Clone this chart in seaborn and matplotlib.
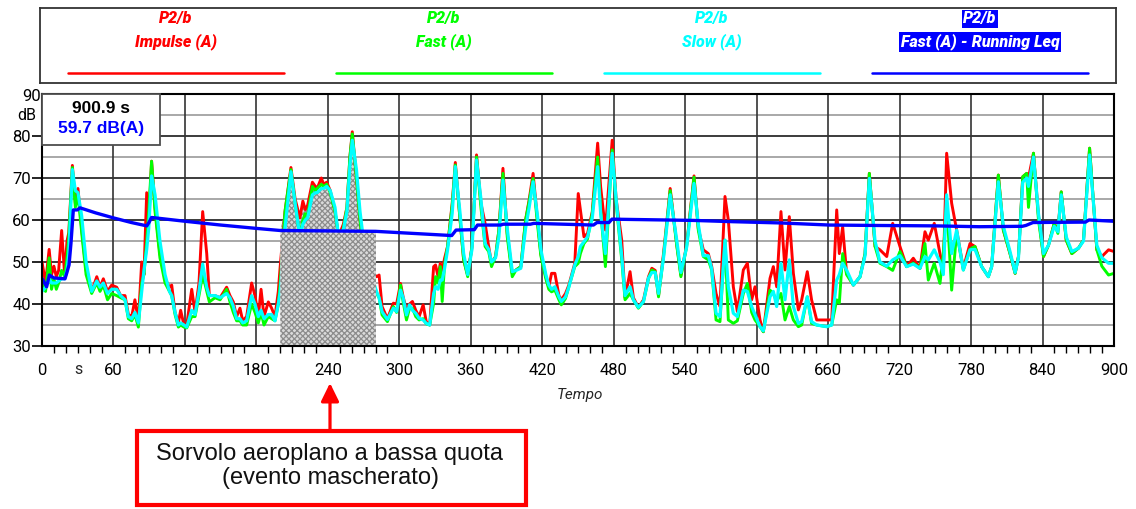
import numpy as np
import matplotlib
matplotlib.use("Agg")
import matplotlib.pyplot as plt
from matplotlib.patches import Rectangle
import seaborn as sns

# ---- measured sound levels, P2/b (dB(A)) ----
time_s = [
    0, 3, 6, 8, 10, 12, 14, 16.5, 19, 21, 22.5, 25.5, 28, 30.2, 33.3, 37, 41.7, 46, 48.7, 51.5,
    55, 58.5, 62.7, 66, 69.7, 72.5, 75.3, 78, 80.9, 83.7, 85.6, 87.9, 89.6, 92, 94.9, 99, 103.3, 107, 108.9, 111.7,
    114.5, 116.4, 119.2, 121.5, 125.7, 128.5, 131.8, 134.9, 138.3, 140.5, 145.3, 149.5, 155, 157.8, 160.6, 163.4, 166.2, 168.5, 171.8, 176,
    178.8, 181.6, 183.9, 186.4, 190, 192.8, 195.6, 198.4, 200,
    204, 209, 212.5, 216.5, 219, 221, 223, 227, 229.5, 231, 234.5, 236.5, 239, 242, 246, 249, 253, 256, 258.5, 260.5,
    264, 267, 270, 275,
    281, 283, 285.5, 290, 295, 297.7, 301, 303.2, 306, 308.6, 311, 313.8, 316.6, 320, 322.6, 325.5, 328.8, 330.4, 332.5, 334.4,
    336, 338, 340.5, 344.4, 347, 351, 354, 357.4, 361, 364.8, 368.5, 372, 375, 377.4, 380.8, 383.6, 387, 390.6, 394.8, 398,
    402, 406, 409, 412.3, 416, 418.8, 423, 425.5, 427.8, 430.6, 434, 436, 439.5, 442.3, 447.3, 450.2, 452, 455, 458, 462,
    466.5, 469, 473, 478.7, 482, 486.7, 489.5, 493.7, 496.5, 500.7, 505, 509.2, 512, 514.8, 517.6, 521.8, 527.4, 533, 536.4, 541.2,
    547.4, 551, 555.2, 559.4, 562.2, 565.9, 569.2, 573.4, 576.2, 580.4, 583.8, 588.8, 592.2, 595.8, 598.6, 602.8, 605.6, 611.2, 614, 616.8,
    620.4, 623.8, 627.4, 630.8, 635, 637.8, 642.5, 646.1, 650.4, 658.8, 663, 667.2, 669.4, 672.2, 675.5, 681.2, 686.8, 691, 694.6, 699.4,
    703.5, 709.2, 714.2, 720.3, 725.9, 731.5, 737.1, 741.3, 744.1, 749.1, 753.9, 756.7, 759.5, 763.7, 767.9, 773.5, 779.1, 783.3, 788.9, 794.5,
    797.3, 802.9, 807.1, 812.7, 817, 819.8, 823.4, 826.7, 828.2, 832.4, 836.6, 840.8, 845, 849.8, 852.9, 855.7, 859.9, 864.6, 870.2, 874.4,
    879.5, 885.6, 889.8, 895.4, 900,
]

fast_a = [
    45, 43, 51, 43.5, 46, 43.5, 45, 48, 46.5, 51, 56, 72.5, 63, 66, 57, 47, 42.5, 45, 43, 44.5,
    41, 42.5, 42, 41.5, 41, 36.5, 36, 37.5, 34.5, 45, 47, 55, 62, 74, 62, 51, 45, 43, 42, 37.5,
    34.5, 35, 34.5, 34.3, 37, 37, 42, 47, 43, 40.5, 41.5, 41, 43.5, 40.5, 38, 36, 36, 35, 35, 40,
    38, 35.5, 38, 35, 37, 36.5, 36, 40, 45,
    62, 72, 64, 56, 60, 61.5, 61, 68, 67, 67.5, 68.5, 68, 68.5, 66.5, 62, 56, 58, 63, 75, 80.5,
    70, 60, 52, 47,
    42.5, 41.5, 37.4, 35.8, 39.4, 38, 44.5, 40.5, 36.2, 39, 39, 37, 36.2, 36.5, 35.3, 35, 40.2, 46.5, 45, 48.9,
    40.6, 49.5, 53.7, 63.5, 73.1, 60, 50.5, 46.5, 53.7, 75, 63, 53.7, 52.5, 48.9, 51.3, 57.6, 71.1, 56, 46.5, 48.1,
    48.9, 60, 64.4, 69.9, 59, 51.5, 46, 43.5, 42.9, 43.3, 41, 39.8, 41.3, 44.1, 48.9, 49.7, 52, 54.4, 55.5, 61.6,
    75, 62.4, 48.9, 76.7, 64, 50.5, 41, 42.5, 41, 39, 40.6, 46, 48.1, 47.7, 41.7, 51.3, 67, 53.7, 46.5, 53.7,
    70.2, 57.6, 51.3, 50.5, 48.1, 36.2, 35.8, 55.2, 36.2, 35.4, 36, 42.5, 44.9, 38, 36.2, 34.6, 33.4, 43.3, 42.5, 40.6,
    42.5, 36.2, 39.4, 36.2, 34.6, 35, 41.7, 35.4, 35, 34.6, 35, 41, 40.2, 52, 47, 44.5, 46.5, 52, 71.1, 53.7,
    49.7, 48.9, 48, 52.5, 48.9, 49.7, 48.5, 54.4, 45.7, 49.7, 44.9, 52, 64, 43.3, 57, 48.1, 53, 53.7, 48.9, 46.5,
    48.9, 70.7, 57.6, 52, 47.3, 51.3, 70.3, 71.1, 63, 75.9, 60, 51.3, 54, 59.2, 56.8, 66.7, 55.2, 52, 53.3, 55.2,
    77.1, 52.9, 49, 46.9, 47.3,
]

impulse_a = [
    50, 45, 53, 47, 49, 46.5, 48, 57.5, 47, 55, 57, 73, 64, 67.5, 58, 48, 43, 46.5, 44, 46,
    43, 44.5, 44, 42, 42, 37.5, 37, 41, 36, 50, 47, 66.5, 59, 74, 63, 52, 46, 44, 44.5, 38,
    35.5, 38.5, 35, 35, 43.5, 38, 45, 62, 52, 42, 42, 41.5, 44, 42, 40.5, 37, 39, 36, 37, 45,
    42, 37, 43.5, 37, 40.5, 39, 37, 43, 49,
    62, 72.5, 65, 60.5, 64.5, 62.5, 63.5, 69, 68, 67.5, 70, 68.5, 69, 67, 62, 56, 59, 63, 75, 81,
    70, 60, 53, 48,
    46.5, 46.9, 39.4, 36.5, 40.2, 40, 44.9, 41.7, 38.6, 40, 40.6, 38.5, 37, 39.8, 35.8, 35, 48.9, 49.3, 46.5, 49.7,
    48, 50.9, 53.7, 64, 73.7, 60, 50.5, 46.9, 53.7, 75.5, 64, 59.2, 53.7, 49.7, 51.3, 57.6, 72.3, 56.8, 47.3, 48.1,
    48.9, 60, 64.8, 71.1, 60, 52, 46.5, 44.1, 47.3, 47.3, 42, 41, 42.5, 44.5, 49.7, 66.3, 62.4, 56, 56.8, 62,
    78.3, 67.9, 57.6, 79, 65, 55.2, 41.5, 47.7, 41.5, 39.2, 41, 46.5, 48.5, 48, 42, 52, 67.5, 54, 46.9, 54,
    70.5, 58, 52.9, 52, 49, 42.5, 39.4, 65.6, 60, 44.1, 38.2, 48.1, 49.7, 41, 44.1, 36.2, 33.4, 46.1, 48.9, 44.1,
    62, 48.1, 60.8, 47.3, 38.6, 41, 47.7, 41, 36.2, 36.2, 36.2, 62.4, 52, 58.4, 47.3, 44.5, 46.5, 52, 71.1, 53.7,
    52.9, 51.3, 59.2, 53.7, 48.9, 50.9, 48.5, 57.2, 55.2, 59.2, 52, 48, 75.9, 64, 57.6, 48.5, 54.4, 53.7, 48.9, 46.5,
    48.9, 70.7, 57.6, 52, 47.3, 51.3, 70.3, 71.1, 70, 75.9, 61, 51.3, 54, 59.2, 57.6, 66.7, 55.2, 52, 53.3, 55.2,
    77.1, 52.9, 51.3, 52.9, 52.5,
]

slow_a = [
    43, 44, 46, 45, 45, 45, 45.5, 46, 46, 48, 52, 72, 67, 66.5, 61, 50, 43, 45.5, 44, 45,
    42.5, 43.5, 43.5, 42, 41, 37, 36.5, 38, 35.5, 43, 48, 53, 58, 70.5, 66, 55, 47, 43, 42, 38,
    35, 35.5, 35, 34.5, 38.5, 37.5, 43, 49.5, 44, 42, 42, 41.5, 42.5, 41.5, 39.5, 36.5, 36.5, 35.5, 36, 42,
    40, 37, 38.5, 36.5, 37.5, 37.5, 36, 40, 43,
    58, 71.5, 64, 56, 59, 60, 60.5, 66, 66.5, 66.5, 67.5, 67.5, 68, 67, 63, 56, 57.6, 62, 73, 79,
    72, 62, 55, 48,
    42.9, 41.5, 38.2, 36.3, 39, 38.2, 43.3, 41.5, 37.4, 39.8, 38.5, 37.8, 36.6, 36.2, 35.4, 35, 42.5, 44.1, 43.5, 45.7,
    45.7, 48.5, 52.9, 61.6, 72.7, 61.6, 52, 47, 53, 74.3, 65, 54.4, 53, 50, 51, 56, 69.5, 58, 47.7, 48,
    48.5, 58, 63, 69.1, 61, 53, 47, 44.5, 43.5, 44.1, 41.7, 40.6, 41.7, 44, 49.3, 51.3, 53.7, 54.8, 56, 60.5,
    72.7, 61.6, 52, 75.9, 65, 51.5, 42, 44.1, 41, 39.2, 40.6, 46.2, 47.5, 47.5, 42.5, 51, 66, 55, 47.5, 53.5,
    68.7, 59, 51.5, 51.5, 48.5, 37.8, 37, 55.2, 44.1, 37.8, 37, 43.3, 43, 39.4, 37.5, 34.6, 33.6, 41.7, 43, 39.4,
    49.7, 41, 50.5, 39.4, 35.4, 35.8, 41.7, 35.8, 35, 34.6, 35, 45.7, 47, 49.7, 48.1, 44.5, 46.5, 51.5, 69.9, 55,
    50, 49, 50.5, 51.5, 48.9, 49.5, 48.5, 51.3, 50.5, 52.9, 50, 47, 66, 52, 57.6, 48.1, 52.9, 53, 48.9, 46.5,
    48.9, 69.1, 58.5, 52.5, 47.5, 51, 69, 70, 68, 75, 61.5, 52, 54, 58.5, 57.2, 66, 56, 52.5, 53.3, 55,
    75.5, 54, 51, 49.7, 49.7,
]

# running Leq of the Fast (A) channel
leq_time = [0, 3.9, 6.2, 10, 19.3, 20.7, 22.7, 24.3, 26.3, 29.7, 31.9, 45, 60, 75, 88, 90, 92,
            120, 150, 180, 200, 240, 280, 344, 347.6, 363, 365.6, 385, 387.3, 410, 412.9,
            463, 465.9, 476, 478.5, 547, 580, 620, 661, 700, 750, 787, 823, 826, 832,
            876, 879, 900]
leq_db = [46.1, 44.1, 46.9, 46.2, 46.0, 47.3, 49.3, 54.4, 62.4, 62.4, 62.9, 61.7, 60.5, 59.4, 58.6, 59.5, 60.6,
          59.7, 58.8, 58.0, 57.5, 57.4, 57.3, 56.3, 57.6, 57.7, 58.8, 58.8, 59.0, 59.0, 59.2,
          58.8, 59.4, 59.4, 60.2, 59.9, 59.6, 59.3, 58.8, 58.7, 58.6, 58.4, 58.5, 58.7, 59.4,
          59.5, 60.0, 59.7]

# masked event (low-altitude overflight)
mask_start, mask_end = 200.0, 280.4

elapsed_label = "900.9 s"
final_leq_label = "59.7 dB(A)"

x_ticks = list(range(0, 901, 60))
y_ticks = [30, 40, 50, 60, 70, 80]

legend_entries = [
    ("P2/b", "Impulse (A)", "#ff0000"),
    ("P2/b", "Fast (A)", "#00ff00"),
    ("P2/b", "Slow (A)", "#00ffff"),
    ("P2/b", "Fast (A) - Running Leq", "#0000ff"),
]

# ---------------------------------------------------------------
sns.set_theme(style="white")
plt.rcParams['font.family'] = ['DejaVu Sans']
plt.rcParams['hatch.linewidth'] = 0.9

W, H = 1136, 509
fig = plt.figure(figsize=(W / 100, H / 100), dpi=100)
fig.patch.set_facecolor("white")


def fx(px):
    return px / W


def fy(py):
    return 1 - py / H


ax = fig.add_axes([fx(42), fy(346), fx(1114) - fx(42), fy(94) - fy(346)])
ax.set_facecolor("white")

t = np.array(time_s, dtype=float)
fast = np.array(fast_a, dtype=float)
imp = np.array(impulse_a, dtype=float)
slow = np.array(slow_a, dtype=float)

# grid
for yv in range(35, 90, 5):
    ax.axhline(yv, color="#1a1a1a" if yv % 10 == 0 else "#9a9a9a", lw=1.2, zorder=0.5)
for xv in x_ticks[1:-1]:
    ax.axvline(xv, color="#333333", lw=1.2, zorder=0.5)

# level curves
sns.lineplot(x=t, y=imp, ax=ax, color="#ff0000", lw=2.1, zorder=2)
sns.lineplot(x=t, y=fast, ax=ax, color="#00ff00", lw=2.1, zorder=2.1)
sns.lineplot(x=t, y=slow, ax=ax, color="#00ffff", lw=2.3, zorder=2.2)
sns.lineplot(x=leq_time, y=leq_db, ax=ax, color="#0000ff", lw=2.4, zorder=4)

# masked region: dotted grey area under the curves and up to the Leq level
inside = (t > mask_start) & (t < mask_end)
mx = np.concatenate([[mask_start], t[inside], [mask_end]])
m_leq = np.interp(mx, leq_time, leq_db)
m_top = np.maximum.reduce([fast, imp, slow])[inside]
m_top = np.concatenate([[m_leq[0]], m_top, [m_leq[-1]]])
hatch_kw = dict(facecolor="#dadada", edgecolor="#8c8c8c", hatch="xxxxxx", lw=0)
ax.fill_between(mx, m_leq, m_top, where=m_top >= m_leq, interpolate=True, zorder=1, **hatch_kw)
ax.fill_between(mx, 30, m_leq, zorder=3, **hatch_kw)

ax.set_xlim(0, 900)
ax.set_ylim(30, 90)
ax.set_xticks(x_ticks)
ax.set_xticklabels([str(v) for v in x_ticks])
ax.set_xticks(list(range(0, 901, 10)), minor=True)
ax.set_yticks(y_ticks)
ax.set_yticklabels([str(v) for v in y_ticks])
ax.tick_params(axis="x", which="major", direction="out", length=9, width=1.2, color="black",
               pad=3, labelsize=12, labelcolor="black")
ax.tick_params(axis="x", which="minor", direction="out", length=5, width=1.0, color="black", bottom=True)
ax.tick_params(axis="y", which="major", direction="out", length=7, width=1.2, color="black",
               pad=1, labelsize=12, labelcolor="black", left=True)
for lab in ax.get_xticklabels() + ax.get_yticklabels():
    lab.set_family(["Roboto", "DejaVu Sans"])
for sp in ax.spines.values():
    sp.set_visible(True)
    sp.set_color("black")
    sp.set_linewidth(1.5)
    sp.set_zorder(6)
ax.set_xlabel("")
ax.set_ylabel("")

# axis captions
ax.text(-0.5, 89.4, "90", transform=ax.transData, ha="right", va="center", fontsize=12,
        family=["Roboto", "DejaVu Sans"], color="black", clip_on=False)
ax.text(-5, 84.8, "dB", transform=ax.transData, ha="right", va="center", fontsize=11.5,
        family=["Roboto", "DejaVu Sans"], color="black", clip_on=False)
fig.text(fx(78), fy(369), "s", ha="center", va="center", fontsize=11.5,
         family=["Roboto", "DejaVu Sans"])
fig.text(fx(580), fy(395), "Tempo", ha="center", va="center", fontsize=11,
         fontstyle="italic", family=["Roboto", "DejaVu Sans"])

# readout box
ax.add_patch(Rectangle((0, 77.9), 99, 12.1, facecolor="white", edgecolor="#4d4d4d",
                       lw=1.3, zorder=7, clip_on=False))
ax.text(49.5, 86.6, elapsed_label, ha="center", va="center", fontsize=12.5, fontweight="bold",
        family=["Liberation Sans", "DejaVu Sans"], color="black", zorder=8)
ax.text(49.5, 81.8, final_leq_label, ha="center", va="center", fontsize=12.5, fontweight="bold",
        family=["Liberation Sans", "DejaVu Sans"], color="#0000ff", zorder=8)

# legend panel
lax = fig.add_axes([fx(40), fy(83), fx(1116) - fx(40), fy(8) - fy(83)])
lax.set_xlim(0, 1076)
lax.set_ylim(75, 0)
lax.set_xticks([])
lax.set_yticks([])
lax.set_facecolor("white")
for sp in lax.spines.values():
    sp.set_visible(True)
    sp.set_color("#333333")
    sp.set_linewidth(1.3)
leg_font = ["Roboto", "DejaVu Sans"]
for i, (l1, l2, col) in enumerate(legend_entries):
    cx = 136 + 268 * i
    if i == 3:
        kw = dict(color="white", bbox=dict(facecolor=col, edgecolor="none", pad=1.0))
    else:
        kw = dict(color=col)
    lax.text(cx, 11, l1, ha="center", va="center", fontsize=11.5, fontweight="heavy",
             fontstyle="italic", family=leg_font, **kw)
    lax.text(cx, 34, l2, ha="center", va="center", fontsize=11.5, fontweight="heavy",
             fontstyle="italic", family=leg_font, **kw)
    lax.plot([cx - 108, cx + 108], [65, 65], color=col, lw=1.8)

# annotation for the masked event
fig.add_artist(Rectangle((fx(137), fy(505)), fx(526) - fx(137), fy(431) - fy(505),
                         transform=fig.transFigure, facecolor="white", edgecolor="#ff0000", lw=3))
fig.text(fx(330), fy(466), "Sorvolo aeroplano a bassa quota\n(evento mascherato)",
         ha="center", va="center", fontsize=17, family=["Liberation Sans", "DejaVu Sans"],
         color="#111111", linespacing=1.1)
ax.annotate("", xy=(330, H - 383), xytext=(330, H - 430), xycoords="figure pixels",
            textcoords="figure pixels",
            arrowprops=dict(arrowstyle="-|>,head_length=0.55,head_width=0.27", color="#ff0000",
                            lw=2.3, mutation_scale=20, shrinkA=0, shrinkB=0))

fig.savefig("out.png", dpi=100, facecolor="white")
